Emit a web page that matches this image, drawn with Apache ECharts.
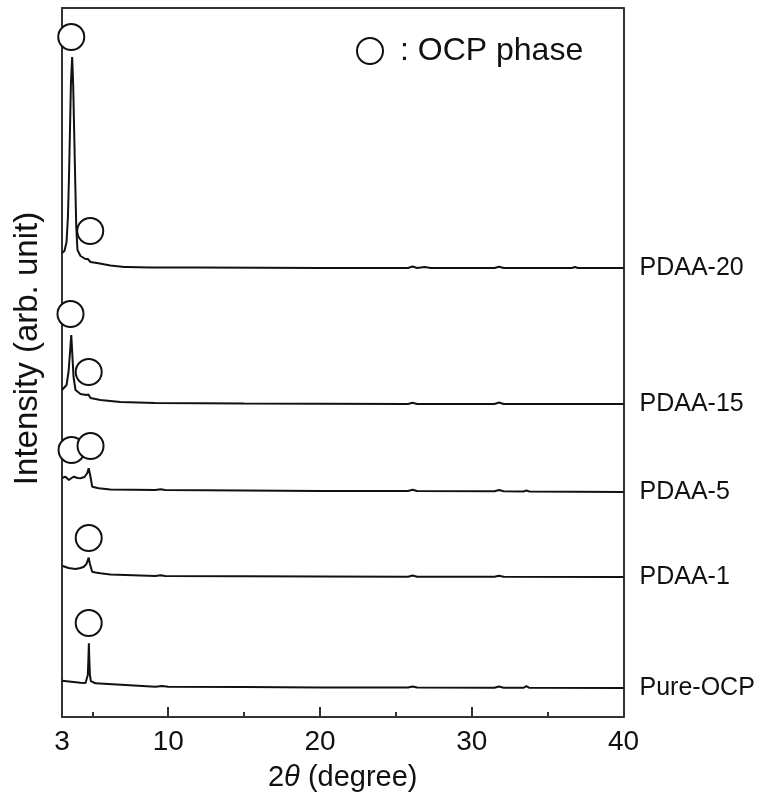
<!DOCTYPE html>
<html>
<head>
<meta charset="utf-8">
<script src="https://cdn.jsdelivr.net/npm/echarts@6/dist/echarts.min.js"></script>
<style>
html,body{margin:0;padding:0;background:#fff;}
#chart{width:783px;height:805px;}
</style>
</head>
<body>
<div id="chart"></div>
<script>
// 2θ (degree) vs intensity (arb. unit, offset stacked)
const seriesNames = ['PDAA-20', 'PDAA-15', 'PDAA-5', 'PDAA-1', 'Pure-OCP'];

const pdaa20 = [
  [3.0,464],[3.16,466],[3.3,475],[3.39,500],[3.46,540],[3.53,590],[3.59,635],[3.67,660],
  [3.74,630],[3.81,580],[3.88,530],[3.94,490],[4.02,467],[4.22,461],[4.55,458],[4.7,458],
  [4.88,455],[5.4,453.7],[6.19,451.5],[7.1,450],[7.2,451],[7.3,450],[8.8,449.5],[12,449.5],
  [16,449.3],[20,449],[25.8,449],[26.1,450.5],[26.4,449],[26.9,450],[27.3,449],[31.5,449],
  [31.8,450.2],[32.1,449],[36.6,449],[36.8,450],[37.0,449],[40,449]
];
const pdaa15 = [
  [3.0,327],[3.3,332],[3.43,345],[3.53,365],[3.61,382],[3.69,360],[3.76,340],[3.89,327],
  [4.22,323],[4.6,322],[4.74,322.5],[4.88,319],[5.53,317],[6.85,315],[9.15,314],[15,313.5],
  [20,313.3],[25.8,313],[26.1,314.3],[26.4,313],[31.5,313],[31.8,314.5],[32.1,313],[40,313]
];
const pdaa5 = [
  [3.0,239],[3.23,240.3],[3.45,237],[3.63,239],[3.78,240.3],[4.02,239],[4.22,238.7],[4.48,240],
  [4.65,243.5],[4.76,248.7],[4.88,240],[4.99,230.3],[5.42,228.7],[6.19,227.5],[9.15,227],
  [9.5,227.8],[9.8,227],[15,226.5],[20,226],[25.8,226],[26.1,227.3],[26.4,226],[31.5,225.8],
  [31.8,227],[32.1,225.8],[33.4,225.5],[33.6,226.5],[33.8,225.5],[40,225]
];
const pdaa1 = [
  [3.0,151.3],[3.43,149],[3.89,148],[4.22,149],[4.44,150.3],[4.61,153],[4.76,159.3],[4.84,153],
  [4.99,145.3],[5.2,144.5],[5.53,143.7],[6.19,142.5],[9.15,141],[9.5,141.8],[9.8,141],[15,140.8],
  [20,140.5],[25.8,140.3],[26.1,141.5],[26.4,140.3],[31.5,140.2],[31.8,141.3],[32.1,140.2],[40,140]
];
const pureOCP = [
  [3.0,36.3],[4.22,34.3],[4.55,34],[4.65,36],[4.7,42],[4.74,58],[4.77,73.7],[4.8,58],[4.84,42],
  [4.9,36],[5.0,34],[5.2,33.7],[9.15,30.3],[9.6,31],[10,30.3],[15,30],[20,29.5],[25.8,29.5],
  [26.1,30.5],[26.4,29.5],[31.5,29.3],[31.8,30.5],[32.1,29.3],[33.4,29.2],[33.6,30.8],[33.8,29.2],
  [40,29]
];
// OCP phase markers (circle positions)
const ocpMarks = [
  [3.61,680],[4.86,486],[3.56,403],[4.76,345],[3.63,267],[4.88,271],[4.76,179],[4.76,94]
];
const xLabelValues = [3, 10, 20, 30, 40];
const xMajorTicks = [10, 20, 30, 40];
const xMinorTicks = [5, 15, 25, 35];

const FONT = "'Liberation Sans', Arial, Helvetica, sans-serif";
const traces = [pdaa20, pdaa15, pdaa5, pdaa1, pureOCP];

const chart = echarts.init(document.getElementById('chart'), null, {renderer: 'canvas'});

const lineSeries = traces.map((d, i) => ({
  name: seriesNames[i],
  type: 'line',
  data: d,
  showSymbol: false,
  symbol: 'none',
  lineStyle: {color: '#111', width: 2},
  xAxisIndex: 0, yAxisIndex: 0,
  z: 3,
  silent: true,
  endLabel: {
    show: true,
    formatter: seriesNames[i],
    color: '#111',
    fontFamily: FONT,
    fontSize: 25,
    distance: 16
  }
}));

const option = {
  animation: false,
  backgroundColor: '#fff',
  grid: {left: 62, right: 159.5, top: 8, bottom: 88, containLabel: false, outerBoundsMode: 'none'},
  legend: {
    data: [': OCP phase'],
    left: 351, top: 30,
    icon: 'circle',
    itemWidth: 26, itemHeight: 26,
    itemGap: 10,
    itemStyle: {color: '#fff', borderColor: '#111', borderWidth: 2},
    textStyle: {color: '#111', fontFamily: FONT, fontSize: 32, padding: [0,0,0,12]},
    formatter: n => n
  },
  xAxis: [{
    type: 'value', min: 3, max: 40, interval: 1,
    position: 'bottom',
    axisLine: {show: true, onZero: false, lineStyle: {color: '#333', width: 2}},
    axisTick: {show: true, inside: true, length: 10, customValues: xMajorTicks, lineStyle: {color: '#333', width: 2}},
    axisLabel: {customValues: xLabelValues, color: '#111', fontFamily: FONT, fontSize: 28, margin: 11},
    splitLine: {show: false},
    name: '2{i|θ} (degree)',
    nameLocation: 'middle',
    nameGap: 46,
    nameTextStyle: {color: '#111', fontFamily: FONT, fontSize: 29,
      rich: {i: {fontStyle: 'italic', fontFamily: FONT, fontSize: 29, color: '#111'}}}
  }, {
    type: 'value', min: 3, max: 40, interval: 1,
    position: 'bottom',
    axisLine: {show: false},
    axisTick: {show: true, inside: true, length: 5, customValues: xMinorTicks, lineStyle: {color: '#333', width: 2}},
    axisLabel: {show: false},
    splitLine: {show: false}
  }, {
    type: 'value', min: 3, max: 40, position: 'top',
    axisLine: {show: true, onZero: false, lineStyle: {color: '#333', width: 2}},
    axisTick: {show: false}, axisLabel: {show: false}, splitLine: {show: false}
  }],
  yAxis: [{
    type: 'value', min: 0, max: 709,
    axisLine: {show: true, onZero: false, lineStyle: {color: '#333', width: 2}},
    axisTick: {show: false}, axisLabel: {show: false}, splitLine: {show: false},
    name: 'Intensity (arb. unit)',
    nameLocation: 'middle',
    nameGap: 18,
    nameRotate: 90,
    nameTextStyle: {color: '#111', fontFamily: FONT, fontSize: 33, padding: [0,0,0,28]}
  }, {
    type: 'value', min: 0, max: 709, position: 'right',
    axisLine: {show: true, onZero: false, lineStyle: {color: '#333', width: 2}},
    axisTick: {show: false}, axisLabel: {show: false}, splitLine: {show: false}
  }],
  series: lineSeries.concat([{
    name: ': OCP phase',
    type: 'scatter',
    data: ocpMarks,
    symbol: 'circle',
    symbolSize: 26,
    itemStyle: {color: '#fff', borderColor: '#111', borderWidth: 2, opacity: 1},
    z: 5,
    silent: true
  }])
};
chart.setOption(option);
</script>
</body>
</html>
